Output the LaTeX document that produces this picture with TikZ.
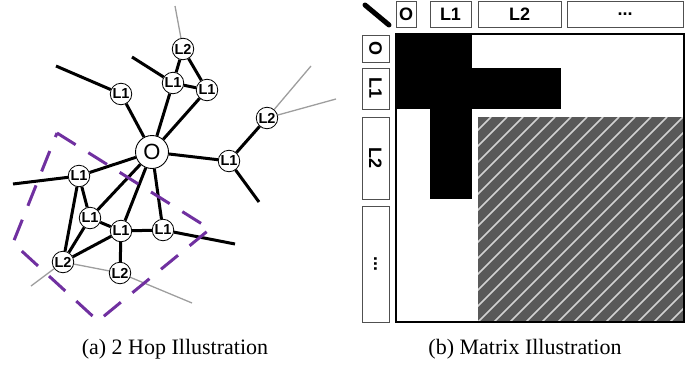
\documentclass[tikz,border=0pt]{standalone}
\usepackage{fontspec}
\setmainfont{Liberation Serif}
\setsansfont{Liberation Sans}
\usetikzlibrary{backgrounds}
\definecolor{hoppurple}{HTML}{7030A0}
\definecolor{hatchgray}{HTML}{595959}
\definecolor{stripe}{HTML}{D2D2D2}
\definecolor{boxline}{HTML}{505050}
\begin{document}
\begin{tikzpicture}[x=1pt,y=-1pt,
  hopnode/.style={circle,draw,fill=white,line width=0.8pt,inner sep=0pt,minimum size=21.5pt,font=\sffamily\bfseries\fontsize{14.5}{14.5}\selectfont},
  onode/.style={circle,draw,fill=white,line width=0.9pt,inner sep=0pt,minimum size=33pt,font=\sffamily\fontsize{22}{22}\selectfont},
  link/.style={line width=3pt},
  faint/.style={line width=1.3pt,color=black!38},
  region/.style={line width=3pt,color=hoppurple,dash pattern=on 22pt off 15pt},
  hdr/.style={draw=boxline,line width=0.8pt,inner sep=0pt,font=\sffamily\bfseries\fontsize{18}{18}\selectfont},
  captext/.style={font=\fontsize{22}{22}\selectfont}]
\useasboundingbox (0,0) rectangle (699,367);

% ---------- (a) 2 hop illustration ----------
\node[onode] (O) at (152,152) {O};
\node[hopnode] (ul) at (121,94) {L1};
\node[hopnode] (tm) at (173,83) {L1};
\node[hopnode] (tr) at (207,90) {L1};
\node[hopnode] (tt) at (183,49) {L2};
\node[hopnode] (rr) at (267,118) {L2};
\node[hopnode] (r1) at (229,161) {L1};
\node[hopnode] (lf) at (79,176) {L1};
\node[hopnode] (ml) at (90,218) {L1};
\node[hopnode] (cc) at (121,231) {L1};
\node[hopnode] (mr) at (163,230) {L1};
\node[hopnode] (bl) at (63,262) {L2};
\node[hopnode] (bb) at (120,273) {L2};

\coordinate (ulx) at (56,66);
\coordinate (tmx) at (132,57);
\coordinate (r1x) at (259,202);
\coordinate (lfx) at (13,184);
\coordinate (mrx) at (235,244);
\coordinate (ttx) at (175,6);
\coordinate (rrx) at (311,66);
\coordinate (rry) at (336,99);
\coordinate (blx) at (31,286);
\coordinate (bbx) at (192,303);

\begin{scope}[on background layer]
  \draw[faint] (tt) -- (ttx);
  \draw[faint] (rr) -- (rrx);
  \draw[faint] (rr) -- (rry);
  \draw[faint] (bl) -- (blx);
  \draw[faint] (bl) -- (bb);
  \draw[faint] (bb) -- (bbx);
  \draw[link] (O) -- (ul);
  \draw[link] (O) -- (tm);
  \draw[link] (O) -- (tr);
  \draw[link] (O) -- (r1);
  \draw[link] (O) -- (lf);
  \draw[link] (O) -- (ml);
  \draw[link] (O) -- (cc);
  \draw[link] (O) -- (mr);
  \draw[link] (tm) -- (tt);
  \draw[link] (tr) -- (tt);
  \draw[link] (tm) -- (tr);
  \draw[link] (r1) -- (rr);
  \draw[link] (lf) -- (ml);
  \draw[link] (lf) -- (bl);
  \draw[link] (ml) -- (bl);
  \draw[link] (ml) -- (cc);
  \draw[link] (cc) -- (bl);
  \draw[link] (cc) -- (mr);
  \draw[link] (cc) -- (bb);
  \draw[link] (ul) -- (ulx);
  \draw[link] (tm) -- (tmx);
  \draw[link] (r1) -- (r1x);
  \draw[link] (lf) -- (lfx);
  \draw[link] (mr) -- (mrx);
\end{scope}

\coordinate (pa) at (57,133);
\coordinate (pb) at (210,229);
\coordinate (pc) at (98,321);
\coordinate (pd) at (13,243);
\draw[region] (pa) -- (pb) -- (pc) -- (pd) -- cycle;

% ---------- (b) matrix illustration ----------
\fill (396,34) rectangle (472,109);
\fill (472,68) rectangle (561,109);
\fill (430,109) rectangle (472,199);
\fill[hatchgray] (478,117) rectangle (684,322);
\begin{scope}
  \clip (478,117) rectangle (684,322);
  \foreach \k in {-208,-192,...,208}
    \draw[stripe,line width=1.5pt] (478+\k,322) -- (683+\k,117);
\end{scope}
\draw[line width=1.1pt] (396,34) rectangle (684,322);

\coordinate (sa) at (365,5);
\coordinate (sb) at (389,25);
\draw[line width=5pt,line cap=round] (sa) -- (sb);

\node[hdr,minimum width=20pt,minimum height=26pt] (hO) at (406,14) {O};
\node[hdr,minimum width=41pt,minimum height=26pt] (hL1) at (450.5,14) {L1};
\node[hdr,minimum width=83pt,minimum height=26pt] (hL2) at (519.5,14) {L2};
\node[hdr,minimum width=116pt,minimum height=26pt] (hD) at (625,14) {...};

\node[hdr,rotate=-90,minimum width=27pt,minimum height=27pt] (vO) at (375.5,48.5) {O};
\node[hdr,rotate=-90,minimum width=41pt,minimum height=27pt] (vL1) at (375.5,88.5) {L1};
\node[hdr,rotate=-90,minimum width=82pt,minimum height=27pt] (vL2) at (375.5,158) {L2};
\node[hdr,rotate=-90,minimum width=116pt,minimum height=27pt] (vD) at (375.5,264) {...};

% ---------- captions ----------
\node[captext] (capa) at (175,349) {(a) 2 Hop Illustration};
\node[captext] (capb) at (525,349) {(b) Matrix Illustration};
\end{tikzpicture}
\end{document}
